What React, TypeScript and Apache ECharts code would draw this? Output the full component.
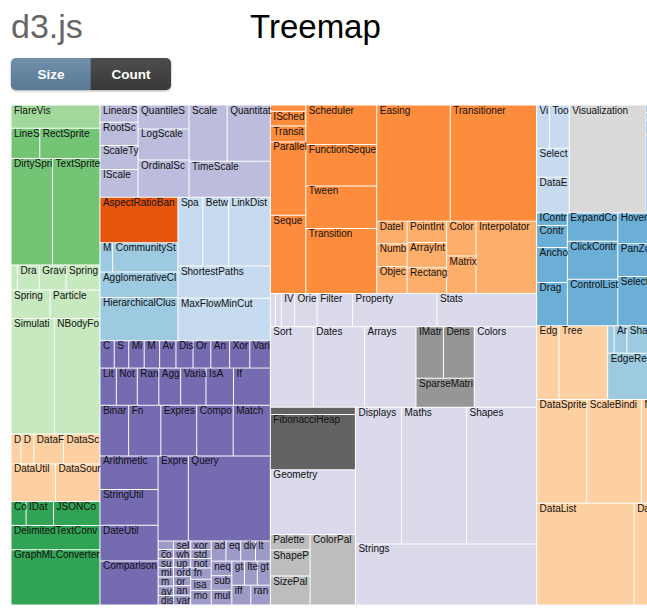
import React, { useEffect, useRef } from "react";
import * as echarts from "echarts";

type Leaf = [string, number];
interface Group { name: string; children: (Group | Leaf)[] }

// ---- flare hierarchy (leaf name, size) ----
const analyticsCluster: Leaf[] = [["AgglomerativeCluster", 3938], ["CommunityStructure", 3812], ["HierarchicalCluster", 6714], ["MergeEdge", 743]];
const analyticsGraph: Leaf[] = [["BetweennessCentrality", 3534], ["LinkDistance", 5731], ["MaxFlowMinCut", 7840], ["ShortestPaths", 5914], ["SpanningTree", 3416]];
const analyticsOptimization: Leaf[] = [["AspectRatioBanker", 7074]];
const animateLeaves: Leaf[] = [["Easing", 17010], ["FunctionSequence", 5842], ["ISchedulable", 1041], ["Parallel", 5176], ["Pause", 449], ["Scheduler", 5593], ["Sequence", 5534], ["Transition", 9201], ["Transitioner", 19975], ["TransitionEvent", 1116], ["Tween", 6006]];
const animateInterpolate: Leaf[] = [["ArrayInterpolator", 1983], ["ColorInterpolator", 2047], ["DateInterpolator", 1375], ["Interpolator", 8746], ["MatrixInterpolator", 2202], ["NumberInterpolator", 1382], ["ObjectInterpolator", 1629], ["PointInterpolator", 1675], ["RectangleInterpolator", 2042]];
const dataConverters: Leaf[] = [["Converters", 721], ["DelimitedTextConverter", 4294], ["GraphMLConverter", 9800], ["IDataConverter", 1314], ["JSONConverter", 2220]];
const dataLeaves: Leaf[] = [["DataField", 1759], ["DataSchema", 2165], ["DataSet", 586], ["DataSource", 3331], ["DataTable", 772], ["DataUtil", 3322]];
const displayLeaves: Leaf[] = [["DirtySprite", 8833], ["LineSprite", 1732], ["RectSprite", 3623], ["TextSprite", 10066]];
const flexLeaves: Leaf[] = [["FlareVis", 4116]];
const physicsLeaves: Leaf[] = [["DragForce", 1082], ["GravityForce", 1336], ["IForce", 319], ["NBodyForce", 10498], ["Particle", 2822], ["Simulation", 9983], ["Spring", 2213], ["SpringForce", 1681]];
const queryLeaves: Leaf[] = [["AggregateExpression", 1616], ["And", 1027], ["Arithmetic", 3891], ["Average", 891], ["BinaryExpression", 2893], ["Comparison", 5103], ["CompositeExpression", 3677], ["Count", 781], ["DateUtil", 4141], ["Distinct", 933], ["Expression", 5130], ["ExpressionIterator", 3617], ["Fn", 3240], ["If", 2732], ["IsA", 2039], ["Literal", 1214], ["Match", 3748], ["Maximum", 843], ["Minimum", 843], ["Not", 1554], ["Or", 970], ["Query", 13896], ["Range", 1594], ["StringUtil", 4130], ["Sum", 791], ["Variable", 1124], ["Variance", 1876], ["Xor", 1101]];
const queryMethods: Leaf[] = [["add", 593], ["and", 330], ["average", 287], ["count", 277], ["distinct", 292], ["div", 595], ["eq", 594], ["fn", 460], ["gt", 603], ["gte", 625], ["iff", 748], ["isa", 461], ["lt", 597], ["lte", 619], ["max", 283], ["min", 283], ["mod", 591], ["mul", 603], ["neq", 599], ["not", 386], ["or", 323], ["orderby", 307], ["range", 772], ["select", 296], ["stddev", 363], ["sub", 600], ["sum", 280], ["update", 307], ["variance", 335], ["where", 299], ["xor", 354], ["_", 264]];
const scaleLeaves: Leaf[] = [["IScaleMap", 2105], ["LinearScale", 1316], ["LogScale", 3151], ["OrdinalScale", 3770], ["QuantileScale", 2435], ["QuantitativeScale", 4839], ["RootScale", 1756], ["Scale", 4268], ["ScaleType", 1821], ["TimeScale", 5833]];
const utilLeaves: Leaf[] = [["Arrays", 8258], ["Colors", 10001], ["Dates", 8217], ["Displays", 12555], ["Filter", 2324], ["Geometry", 10993], ["IEvaluable", 335], ["IPredicate", 383], ["IValueProxy", 874], ["Maths", 17705], ["Orientation", 1486], ["Property", 5559], ["Shapes", 19118], ["Sort", 6887], ["Stats", 6557], ["Strings", 22026]];
const utilHeap: Leaf[] = [["FibonacciHeap", 9354], ["HeapNode", 1233]];
const utilMath: Leaf[] = [["DenseMatrix", 3165], ["IMatrix", 2815], ["SparseMatrix", 3366]];
const utilPalette: Leaf[] = [["ColorPalette", 6367], ["Palette", 1229], ["ShapePalette", 2059], ["SizePalette", 2291]];
const visAxis: Leaf[] = [["Axes", 1302], ["Axis", 24593], ["AxisGridLine", 652], ["AxisLabel", 636], ["CartesianAxes", 6703]];
const visControls: Leaf[] = [["AnchorControl", 2138], ["ClickControl", 3824], ["Control", 1353], ["ControlList", 4665], ["DragControl", 2649], ["ExpandControl", 2832], ["HoverControl", 4896], ["IControl", 763], ["PanZoomControl", 5222], ["SelectionControl", 7862], ["TooltipControl", 8435]];
const visData: Leaf[] = [["Data", 20544], ["DataList", 19788], ["DataSprite", 10349], ["EdgeSprite", 3301], ["NodeSprite", 19382], ["ScaleBinding", 11275], ["Tree", 7147], ["TreeBuilder", 9930]];
const visDataRender: Leaf[] = [["ArrowType", 698], ["EdgeRenderer", 5569], ["IRenderer", 353], ["ShapeRenderer", 2247]];
const visEvents: Leaf[] = [["DataEvent", 2313], ["SelectionEvent", 1880], ["TooltipEvent", 1701], ["VisualizationEvent", 1117]];
const visLegend: Leaf[] = [["Legend", 20859], ["LegendItem", 4614], ["LegendRange", 10530]];
const visOperatorLeaves: Leaf[] = [["IOperator", 1286], ["Operator", 2490], ["OperatorList", 5248], ["OperatorSequence", 4190], ["OperatorSwitch", 2581], ["SortOperator", 2023]];
const visDistortion: Leaf[] = [["BifocalDistortion", 4461], ["Distortion", 6314], ["FisheyeDistortion", 3444]];
const visEncoder: Leaf[] = [["ColorEncoder", 3179], ["Encoder", 4060], ["PropertyEncoder", 4138], ["ShapeEncoder", 1690], ["SizeEncoder", 1830]];
const visFilter: Leaf[] = [["FisheyeTreeFilter", 5219], ["GraphDistanceFilter", 3165], ["VisibilityFilter", 3509]];
const visLabel: Leaf[] = [["Labeler", 9956], ["RadialLabeler", 3899], ["StackedAreaLabeler", 3202]];
const visLayout: Leaf[] = [["AxisLayout", 6725], ["BundledEdgeRouter", 3727], ["CircleLayout", 9317], ["CirclePackingLayout", 12003], ["DendrogramLayout", 4853], ["ForceDirectedLayout", 8411], ["IcicleTreeLayout", 4864], ["IndentedTreeLayout", 3174], ["Layout", 7881], ["NodeLinkTreeLayout", 12870], ["PieLayout", 2728], ["RadialTreeLayout", 12348], ["RandomLayout", 870], ["StackedAreaLayout", 9121], ["TreeMapLayout", 9191]];
const visLeaves: Leaf[] = [["Visualization", 16540]];

// d3 category20c, assigned to parent names in traversal order (ordinal scale)
const category20c = ["#3182bd", "#6baed6", "#9ecae1", "#c6dbef", "#e6550d", "#fd8d3c", "#fdae6b", "#fdd0a2", "#31a354", "#74c476", "#a1d99b", "#c7e9c0", "#756bb1", "#9e9ac8", "#bcbddc", "#dadaeb", "#636363", "#969696", "#bdbdbd", "#d9d9d9"];

const g = (name: string, children: (Group | Leaf)[]): Group => ({ name, children });

const flare: Group = g("flare", [
  g("analytics", [g("cluster", analyticsCluster), g("graph", analyticsGraph), g("optimization", analyticsOptimization)]),
  g("animate", [...animateLeaves, g("interpolate", animateInterpolate)]),
  g("data", [g("converters", dataConverters), ...dataLeaves]),
  g("display", displayLeaves),
  g("flex", flexLeaves),
  g("physics", physicsLeaves),
  g("query", [...queryLeaves, g("methods", queryMethods)]),
  g("scale", scaleLeaves),
  g("util", [...utilLeaves, g("heap", utilHeap), g("math", utilMath), g("palette", utilPalette)]),
  g("vis", [
    g("axis", visAxis),
    g("controls", visControls),
    g("data", [...visData, g("render", visDataRender)]),
    g("events", visEvents),
    g("legend", visLegend),
    g("operator", [g("distortion", visDistortion), g("encoder", visEncoder), g("filter", visFilter), ...visOperatorLeaves, g("label", visLabel), g("layout", visLayout)]),
    ...visLeaves,
  ]),
]);

const colorOf = new Map<string, string>();
function assignColors(n: Group) {
  if (!colorOf.has(n.name)) colorOf.set(n.name, category20c[colorOf.size % 20]);
  n.children.forEach((c) => { if (!Array.isArray(c)) assignColors(c); });
}
assignColors(flare);

function total(n: Group | Leaf): number {
  return Array.isArray(n) ? n[1] : n.children.reduce((s, c) => s + total(c), 0);
}

function toNode(n: Group | Leaf): any {
  if (Array.isArray(n)) return { name: n[0], value: n[1], itemStyle: { borderWidth: 0.5 } };
  const kids = n.children
    .map((c, i) => ({ c, i, v: total(c) }))
    .sort((a, b) => a.v - b.v || b.i - a.i)
    .map((o) => toNode(o.c));
  return { name: n.name, itemStyle: { color: colorOf.get(n.name) }, children: kids };
}

const seriesData = toNode(flare).children;

const FONT = 'Helvetica, Arial, "Liberation Sans", sans-serif';

export default function App() {
  const ref = useRef<HTMLDivElement>(null);
  useEffect(() => {
    if (!ref.current) return;
    const chart = echarts.init(ref.current, null, { renderer: "svg" });
    const grad = (a: string, b: string) =>
      new echarts.graphic.LinearGradient(0, 0, 0, 1, [{ offset: 0, color: a }, { offset: 1, color: b }]);
    chart.setOption({
      animation: false,
      backgroundColor: "#fff",
      graphic: [
        { type: "text", x: 11, y: 26, style: { text: "d3.js", fill: "#666", fontSize: 34, fontFamily: FONT, verticalAlign: "middle" } },
        { type: "text", x: 250, y: 26.5, style: { text: "Treemap", fill: "#000", fontSize: 33, fontFamily: FONT, verticalAlign: "middle" } },
        {
          type: "rect", shape: { x: 11, y: 58, width: 80, height: 32, r: [5, 0, 0, 5] },
          style: { fill: grad("#7190aa", "#587894"), shadowBlur: 2, shadowOffsetY: 1, shadowColor: "rgba(0,0,0,0.35)" },
        },
        {
          type: "rect", shape: { x: 91, y: 58, width: 80, height: 32, r: [0, 5, 5, 0] },
          style: { fill: grad("#4d4d4d", "#383838"), shadowBlur: 2, shadowOffsetY: 1, shadowColor: "rgba(0,0,0,0.35)" },
        },
        { type: "text", x: 51, y: 74.5, style: { text: "Size", fill: "#fff", fontSize: 13.5, fontWeight: "bold", fontFamily: FONT, align: "center", verticalAlign: "middle" } },
        { type: "text", x: 131, y: 74.5, style: { text: "Count", fill: "#fff", fontSize: 13.5, fontWeight: "bold", fontFamily: FONT, align: "center", verticalAlign: "middle" } },
      ],
      series: [
        {
          type: "treemap",
          left: 11,
          top: 105,
          width: 960,
          height: 500,
          roam: false,
          nodeClick: false,
          sort: null,
          squareRatio: 0.5 * (1 + Math.sqrt(5)),
          visibleMin: 0,
          breadcrumb: { show: false },
          itemStyle: { borderWidth: 0, gapWidth: 0, borderColor: "#fff" },
          upperLabel: { show: false },
          label: {
            show: true,
            position: "insideTopLeft",
            distance: 0,
            padding: [2, -2.5, 0, 2.5],
            color: "#111",
            fontSize: 10,
            lineHeight: 5,
            fontFamily: FONT,
            overflow: "truncate",
            ellipsis: "",
          },
          emphasis: { disabled: true },
          data: seriesData,
        },
      ],
    });
    return () => chart.dispose();
  }, []);
  return (
    <div
      ref={ref}
      style={{ position: "fixed", left: 0, top: 0, width: 647, height: 613, overflow: "hidden" }}
    />
  );
}
